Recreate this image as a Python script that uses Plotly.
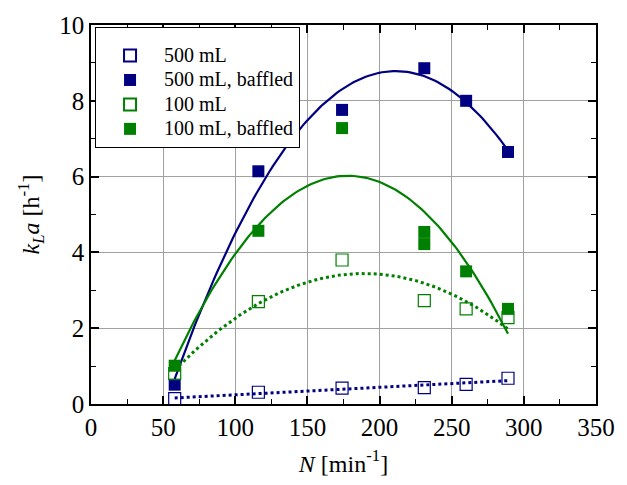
import numpy as np
import plotly.graph_objects as go

# Data
N_500 = [58, 116, 174, 231, 260, 289]
kla_500 = [0.14, 0.31, 0.42, 0.43, 0.52, 0.68]

N_500b = [58, 116, 174, 231, 260, 289]
kla_500b = [0.51, 6.14, 7.76, 8.86, 8.00, 6.65]

N_100 = [58, 116, 174, 231, 260, 289]
kla_100 = [0.80, 2.70, 3.80, 2.73, 2.51, 2.28]

N_100b = [58, 116, 174, 231, 231, 260, 289]
kla_100b = [1.01, 4.57, 7.28, 4.54, 4.22, 3.50, 2.51]

series_names = ["500 mL", "500 mL, baffled", "100 mL", "100 mL, baffled"]

NAVY = "#000080"
GREEN = "#008000"
FONT = "Liberation Serif"

fig = go.Figure()

def fit_curve(x, y, deg):
    c = np.polyfit(x, y, deg)
    xs = np.linspace(min(x), max(x), 120)
    return xs, np.polyval(c, xs)

# fitted curves
for x, y, deg, col, dash in [
    (N_500, kla_500, 1, NAVY, "dot"),
    (N_500b, kla_500b, 2, NAVY, "solid"),
    (N_100, kla_100, 2, GREEN, "dot"),
    (N_100b, kla_100b, 2, GREEN, "solid"),
]:
    xs, ys = fit_curve(x, y, deg)
    fig.add_trace(go.Scatter(x=xs, y=ys, mode="lines", showlegend=False,
                             line=dict(color=col, width=2.2 if dash == "solid" else 3, dash=dash),
                             hoverinfo="skip"))

def lname(s):
    return f'<span style="font-size:20px">{s}</span>'

fig.add_trace(go.Scatter(x=N_500, y=kla_500, mode="markers", name=lname(series_names[0]),
                         marker=dict(symbol="square-open", size=12, color=NAVY, line=dict(width=1.2))))
fig.add_trace(go.Scatter(x=N_500b, y=kla_500b, mode="markers", name=lname(series_names[1]),
                         marker=dict(symbol="square", size=12, color=NAVY)))
fig.add_trace(go.Scatter(x=N_100, y=kla_100, mode="markers", name=lname(series_names[2]),
                         marker=dict(symbol="square-open", size=12, color=GREEN, line=dict(width=1.2))))
fig.add_trace(go.Scatter(x=N_100b, y=kla_100b, mode="markers", name=lname(series_names[3]),
                         marker=dict(symbol="square", size=12, color=GREEN)))

axis_common = dict(
    showline=True, linecolor="black", linewidth=1.5, mirror="ticks",
    ticks="inside", ticklen=8, tickwidth=1.5, tickcolor="black",
    showgrid=True, gridcolor="#a0a0a0", gridwidth=1.2,
    zeroline=False,
    tickfont=dict(family=FONT, size=25, color="black"),
    ticklabeloverflow="allow",
    minor=dict(ticks="inside", ticklen=5, tickwidth=1.2, tickcolor="black", showgrid=False),
)

fig.update_xaxes(range=[0, 350], dtick=50, tick0=0,
                 title=dict(text="<i>N</i> [min<sup>-1</sup>]",
                            font=dict(family=FONT, size=24, color="black"), standoff=15),
                 minor_dtick=25, **axis_common)
fig.update_yaxes(range=[0, 10], dtick=2, tick0=0,
                 title=dict(text="<i>k</i><sub><i>L</i></sub><i>a</i> [h<sup>-1</sup>]",
                            font=dict(family=FONT, size=24, color="black"), standoff=13),
                 minor_dtick=1, **axis_common)

fig.update_layout(
    width=627, height=485,
    margin=dict(l=91, r=13, t=21, b=81),
    paper_bgcolor="white", plot_bgcolor="white",
    font=dict(family=FONT, color="black"),
    legend=dict(x=0.008, y=0.995, xanchor="left", yanchor="top",
                bgcolor="white", bordercolor="black", borderwidth=1,
                font=dict(family=FONT, size=16.5, color="black"),
                title=dict(text=" ", font=dict(size=8)),
                itemwidth=58, entrywidth=168, entrywidthmode="pixels",
                itemsizing="constant", tracegroupgap=0),
)

fig.write_html("out.html")
